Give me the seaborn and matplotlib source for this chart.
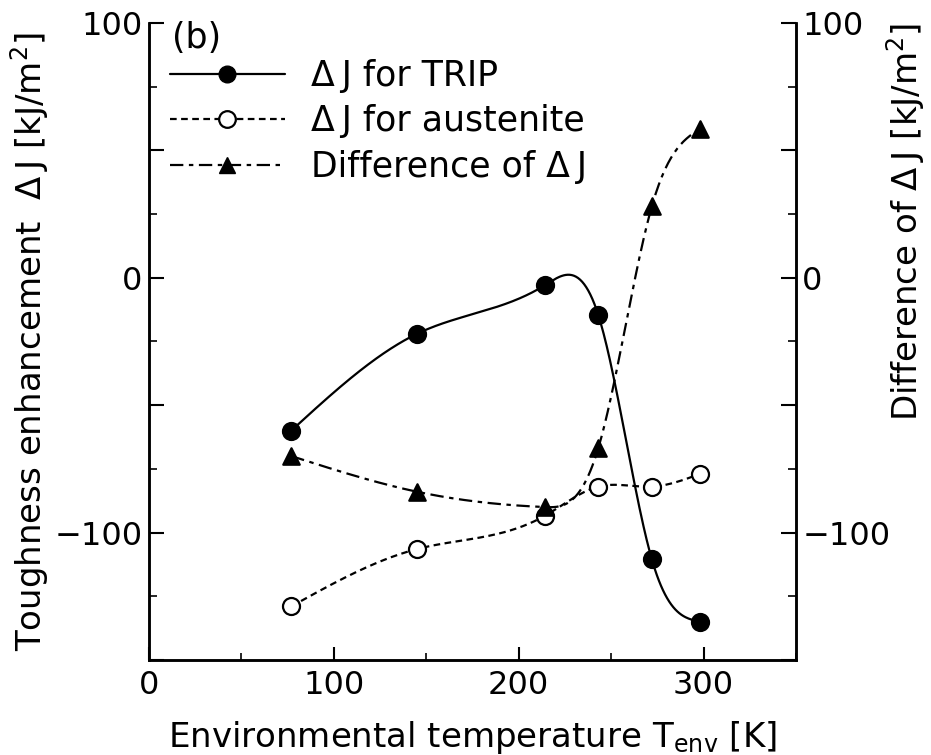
import numpy as np
import pandas as pd
import matplotlib
matplotlib.use("Agg")
import matplotlib.pyplot as plt
from matplotlib.lines import Line2D
from matplotlib.ticker import MultipleLocator, FuncFormatter
import seaborn as sns

# ---- data ----
temps = [77, 145, 214, 243, 272, 298]
dj_trip = [-60, -22, -3, -14.5, -110.5, -135]
dj_austenite = [-129, -106.5, -93.5, -82, -82, -77]
dj_difference = [-70, -84, -90, -67, 28, 58.5]

x_ticks = [0, 100, 200, 300]
y_labelled = [-100, 0, 100]

label_trip = "\u0394\u2009J for TRIP"
label_aus = "\u0394\u2009J for austenite"
label_diff = "Difference of \u0394\u2009J"


def natural_spline(x, y, n=400):
    x = np.asarray(x, float)
    y = np.asarray(y, float)
    k = len(x)
    h = np.diff(x)
    A = np.zeros((k, k))
    b = np.zeros(k)
    A[0, 0] = 1
    A[-1, -1] = 1
    for i in range(1, k - 1):
        A[i, i - 1] = h[i - 1]
        A[i, i] = 2 * (h[i - 1] + h[i])
        A[i, i + 1] = h[i]
        b[i] = 6 * ((y[i + 1] - y[i]) / h[i] - (y[i] - y[i - 1]) / h[i - 1])
    M = np.linalg.solve(A, b)
    xs = np.linspace(x[0], x[-1], n)
    idx = np.clip(np.searchsorted(x, xs) - 1, 0, k - 2)
    x0, x1 = x[idx], x[idx + 1]
    hh = x1 - x0
    t0 = x1 - xs
    t1 = xs - x0
    ys = (M[idx] * t0 ** 3 / (6 * hh) + M[idx + 1] * t1 ** 3 / (6 * hh)
          + (y[idx] / hh - M[idx] * hh / 6) * t0
          + (y[idx + 1] / hh - M[idx + 1] * hh / 6) * t1)
    return xs, ys


sns.set_theme(style="white")
plt.rcParams["font.family"] = ["DejaVu Sans"]
plt.rcParams["mathtext.fontset"] = "dejavusans"
plt.rcParams["text.color"] = "black"
plt.rcParams["axes.labelcolor"] = "black"
plt.rcParams["xtick.color"] = "black"
plt.rcParams["ytick.color"] = "black"

FS_TICK = 23
FS_LAB = 24.5
FS_LEG = 25

fig = plt.figure(figsize=(9.31, 7.55), dpi=100)
ax = fig.add_axes([0.160, 0.126, 0.695, 0.8435])
ax2 = ax.twinx()

df = pd.DataFrame({"T": temps, "trip": dj_trip, "aus": dj_austenite, "diff": dj_difference})

LW = 1.6
styles = {
    "trip": dict(ls="-", marker="o", mfc="black"),
    "aus": dict(ls=(0, (3, 2)), marker="o", mfc="white"),
    "diff": dict(ls=(0, (6, 2.5, 2, 2.5)), marker="^", mfc="black"),
}

for col, axis in [("trip", ax), ("aus", ax), ("diff", ax2)]:
    xs, ys = natural_spline(df["T"], df[col])
    sdf = pd.DataFrame({"T": xs, "v": ys})
    sns.lineplot(data=sdf, x="T", y="v", ax=axis, color="black", lw=LW,
                 linestyle=styles[col]["ls"], sort=False, estimator=None, legend=False)
    sns.scatterplot(data=df, x="T", y=col, ax=axis, marker=styles[col]["marker"],
                    s=150 if styles[col]["marker"] == "o" else 140,
                    facecolor=styles[col]["mfc"], edgecolor="black", linewidth=1.6,
                    zorder=5, legend=False)


def yfmt(v, pos):
    if int(round(v)) in y_labelled:
        return f"{int(round(v))}".replace("-", "\u2212")
    return ""


for a in (ax, ax2):
    a.set_xlim(0, 350)
    a.set_ylim(-150, 100)
    a.yaxis.set_major_locator(MultipleLocator(50))
    a.yaxis.set_minor_locator(MultipleLocator(25))
    a.yaxis.set_major_formatter(FuncFormatter(yfmt))
    a.spines["top"].set_visible(False)
    for s in ("left", "right", "bottom"):
        a.spines[s].set_linewidth(1.8)
        a.spines[s].set_color("black")
    a.set_facecolor("none")
    a.set_ylabel("")
    a.set_xlabel("")

ax.set_xticks(x_ticks)
ax.xaxis.set_minor_locator(MultipleLocator(50))

ax.tick_params(axis="x", which="major", direction="in", length=9.5, width=1.5,
               labelsize=FS_TICK, pad=7, colors="black", bottom=True, top=False)
ax.tick_params(axis="x", which="minor", direction="in", length=5, width=1.2,
               bottom=True, top=False)
ax.tick_params(axis="y", which="major", direction="in", length=11, width=1.5,
               labelsize=FS_TICK, pad=4.5, colors="black", left=True, right=False)
ax.tick_params(axis="y", which="minor", direction="in", length=5.5, width=1.2,
               left=True, right=False)
ax2.tick_params(axis="y", which="major", direction="in", length=11, width=1.5,
                labelsize=FS_TICK, pad=4.5, colors="black", right=True, left=False)
ax2.tick_params(axis="y", which="minor", direction="in", length=5.5, width=1.2,
                right=True, left=False)
ax2.tick_params(axis="x", which="both", bottom=False, top=False)

ax.set_xlabel(r"Environmental temperature T$_{\mathregular{env}}$ [K]", fontsize=FS_LAB, color="black")
ax.xaxis.set_label_coords(0.5, -0.093)
ax.set_ylabel("Toughness enhancement  \u0394\u2009J [kJ/m$^{\\mathregular{2}}$]", fontsize=FS_LAB, color="black")
ax.yaxis.set_label_coords(-0.152, 0.5)
ax2.set_ylabel("Difference of \u0394\u2009J [kJ/m$^{\\mathregular{2}}$]", fontsize=FS_LAB, color="black")
ax2.yaxis.set_label_coords(1.137, 0.688)

fig.text(172 / 931, 1 - 38 / 755, "(b)", fontsize=FS_LEG, va="center", ha="left", color="black")

handles = [
    Line2D([], [], color="black", lw=LW, ls=styles["trip"]["ls"], marker="o", ms=12,
           mfc="black", mec="black"),
    Line2D([], [], color="black", lw=LW, ls=styles["aus"]["ls"], marker="o", ms=12,
           mfc="white", mec="black", mew=1.6),
    Line2D([], [], color="black", lw=LW, ls=styles["diff"]["ls"], marker="^", ms=12,
           mfc="black", mec="black"),
]
leg = fig.legend(handles, [label_trip, label_aus, label_diff], loc="upper left",
                 bbox_to_anchor=(170 / 931, 1 - 59 / 755), frameon=False, fontsize=FS_LEG,
                 handlelength=3.3, handletextpad=0.75, labelspacing=0.33, borderpad=0,
                 borderaxespad=0)
for t in leg.get_texts():
    t.set_color("black")

fig.savefig("out.png", dpi=100)
